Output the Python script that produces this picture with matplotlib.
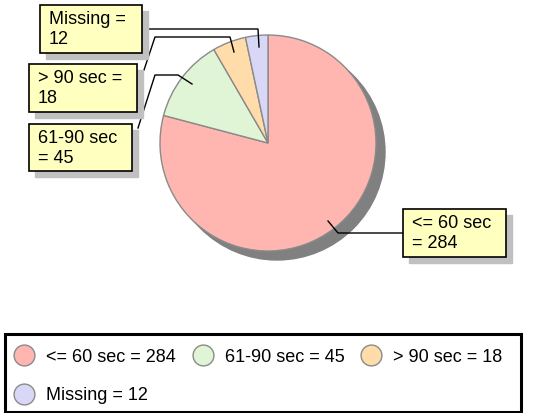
import matplotlib
matplotlib.use("Agg")
import matplotlib.pyplot as plt
from matplotlib.patches import Rectangle, Circle
from matplotlib.lines import Line2D

plt.rcParams['font.family'] = ['Liberation Sans', 'DejaVu Sans']

# data
categories = ['<= 60 sec', '61-90 sec', '> 90 sec', 'Missing']
counts = [284, 45, 18, 12]
colors = ['#ffb6b0', '#e0f5d6', '#ffdcaa', '#d8d8f6']
box_labels = ['<= 60 sec\n= 284', '61-90 sec\n= 45', '> 90 sec =\n18', 'Missing =\n12']

W, H = 535, 413
fig = plt.figure(figsize=(W / 100, H / 100), dpi=100)
ax = fig.add_axes([0, 0, 1, 1])

cx, cy, r = 268, 143, 108

# pie shadow
ax.add_patch(Circle((cx + 9, cy + 9), r, color='#808080', zorder=1))

# y is inverted below, so counterclockwise in data = clockwise on screen; -90 = top
ax.pie(counts, colors=colors, center=(cx, cy), radius=r, startangle=-90,
       counterclock=True, frame=True,
       wedgeprops=dict(edgecolor='#8a8a8a', linewidth=1))
ax.set_xlim(0, W)
ax.set_ylim(H, 0)   # pixel coords, y goes down
ax.set_aspect('equal')
ax.axis('off')

# label boxes (x, y, w, h)
boxes = [(403, 209, 103, 48), (29, 124, 103, 47), (29, 64, 108, 48), (40, 5, 102, 48)]
for (bx, by, bw, bh), txt in zip(boxes, box_labels):
    ax.add_patch(Rectangle((bx + 6, by + 6), bw, bh, color='#c0c0c0', zorder=3))
    ax.add_patch(Rectangle((bx, by), bw, bh, facecolor='#ffffc0',
                           edgecolor='black', linewidth=1.2, zorder=4))
    ax.text(bx + 9, by + 6, txt, fontsize=13, va='top', ha='left',
            linespacing=1.2, zorder=5)

# leader lines
leaders = [
    ([403, 338, 328], [233, 233, 221]),
    ([138, 155, 178, 192], [128, 75, 75, 84]),
    ([144, 155, 230, 234], [70, 37, 37, 52]),
    ([142, 258, 259], [29, 29, 47]),
]
for xs, ys in leaders:
    ax.plot(xs, ys, color='black', linewidth=1, zorder=2.5)

# legend
ax.add_patch(Rectangle((5, 334), 516, 78, facecolor='white',
                       edgecolor='black', linewidth=2.2, zorder=1))
handles = [Line2D([], [], linestyle='none', marker='o', markersize=15,
                  markerfacecolor=c, markeredgecolor='#8a8a8a', markeredgewidth=1)
           for c in colors]
labels = ['%s = %d' % (c, v) for c, v in zip(categories, counts)]
order = [0, 3, 1, 2]
ax.legend([handles[i] for i in order], [labels[i] for i in order], ncol=3,
          loc='upper left', bbox_to_anchor=(1 / W, 1 - 336 / H), frameon=False,
          fontsize=13, handlelength=1.2, handletextpad=0.6, columnspacing=0.9,
          labelspacing=1.2, borderpad=0.2)

fig.savefig('out.png', dpi=100)
